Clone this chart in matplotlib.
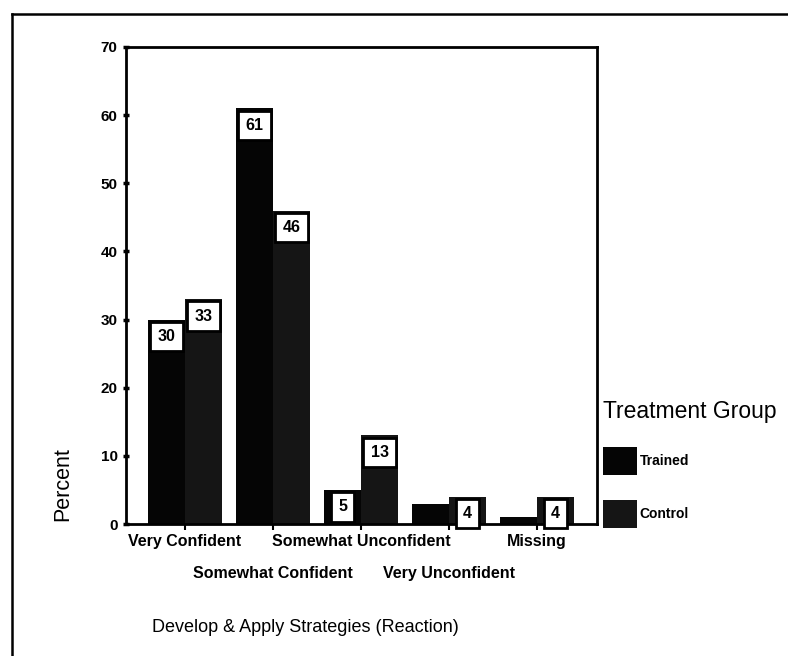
#!/usr/bin/env python3

import matplotlib
matplotlib.use("Agg")
import matplotlib.pyplot as plt
import numpy as np
from matplotlib.lines import Line2D

plt.rcParams['font.family'] = ['Liberation Sans', 'DejaVu Sans']

categories = ['Very Confident', 'Somewhat Confident', 'Somewhat Unconfident',
              'Very Unconfident', 'Missing']
trained = [30, 61, 5, 3, 1]
control = [33, 46, 13, 4, 4]
# which bars carry a value box
trained_labelled = [True, True, True, False, False]
control_labelled = [True, True, True, True, True]
y_ticks = [0, 10, 20, 30, 40, 50, 60, 70]

W, H = 788, 656
fig = plt.figure(figsize=(W / 100, H / 100), dpi=100)
ax = fig.add_axes([126 / W, 1 - 524 / H, (597 - 126) / W, (524 - 47) / H])

x = np.arange(len(categories))
bw = 0.42
b1 = ax.bar(x - bw / 2, trained, bw, color='#050505', label='Trained')
b2 = ax.bar(x + bw / 2, control, bw, color='#151515', label='Control')

for bars, vals, show in [(b1, trained, trained_labelled), (b2, control, control_labelled)]:
    for b, v, s in zip(bars, vals, show):
        if not s:
            continue
        ax.text(b.get_x() + b.get_width() / 2, v - 2.5, str(v),
                ha='center', va='center', fontsize=11.5, fontweight='bold',
                bbox=dict(boxstyle='square,pad=0.45', fc='white', ec='black', lw=2))

ax.set_xlim(-0.67, 4.68)
ax.set_ylim(0, 70)
ax.set_yticks(y_ticks)
ax.set_yticklabels([str(t) for t in y_ticks], fontsize=11, fontweight='bold')
ax.tick_params(axis='y', direction='inout', length=4, width=2.5, pad=4)

ax.set_xticks(x[0::2])
ax.set_xticklabels(categories[0::2], fontsize=11.5, fontweight='bold')
ax.set_xticks(x[1::2], minor=True)
ax.set_xticklabels(categories[1::2], minor=True, fontsize=11.5, fontweight='bold')
ax.tick_params(axis='x', which='major', direction='out', length=4, width=1.5, pad=3)
ax.tick_params(axis='x', which='minor', direction='out', length=4, width=1.5, pad=26)

for sp in ax.spines.values():
    sp.set_linewidth(2)

fig.text(63 / W, 1 - 484 / H, 'Percent', rotation=90, ha='center', va='center', fontsize=15.5)
fig.text(152 / W, 1 - 628 / H, 'Develop & Apply Strategies (Reaction)',
         ha='left', va='center', fontsize=13)

leg = ax.legend(handles=[b1, b2], title='Treatment Group', loc='upper left',
                bbox_to_anchor=(603 / W, 1 - 400 / H), bbox_transform=fig.transFigure,
                frameon=False, prop={'size': 10, 'weight': 'bold'}, title_fontsize=16.5,
                handlelength=2.45, handleheight=2.73, handletextpad=0.2,
                labelspacing=1.75, borderpad=0, borderaxespad=0, alignment='left')

# page border (left and top edges of the scanned frame)
fig.add_artist(Line2D([12 / W, 12 / W], [0, 1 - 14 / H], transform=fig.transFigure,
                      color='black', lw=1.8))
fig.add_artist(Line2D([12 / W, 1], [1 - 14 / H, 1 - 14 / H], transform=fig.transFigure,
                      color='black', lw=1.8))

fig.savefig('out.png', dpi=100)
